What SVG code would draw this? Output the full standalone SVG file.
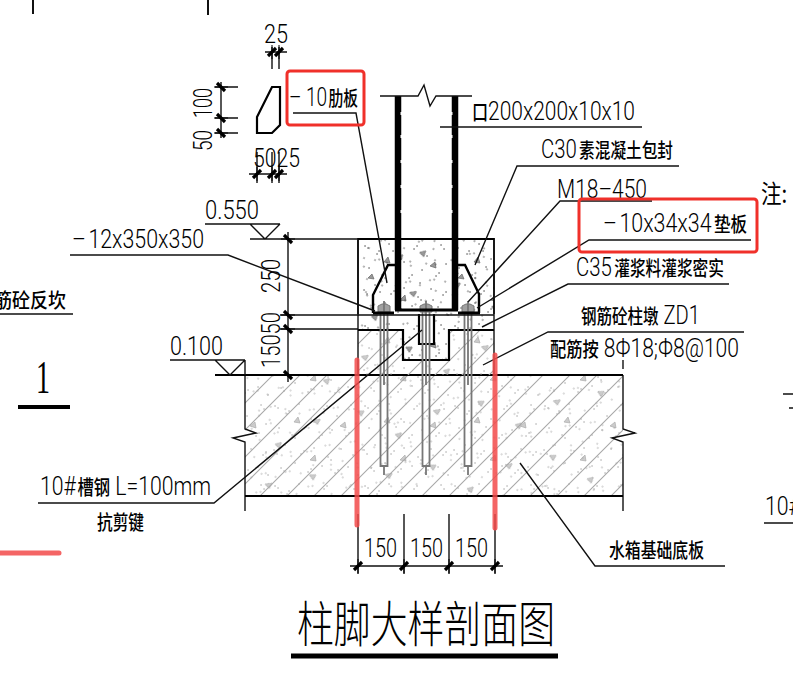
<svg xmlns="http://www.w3.org/2000/svg" width="793" height="690" viewBox="0 0 793 690">
<style>
text{font-family:Roboto,"Liberation Sans","Noto Sans CJK SC",sans-serif;font-weight:300;font-size:26px;fill:#000}
tspan.c{font-size:20px;font-family:"Noto Sans CJK SC",sans-serif;font-weight:500}
.l{fill:none;stroke:#111;stroke-width:1.4}
.b{fill:none;stroke:#000;stroke-width:2.2}
.h{fill:none;stroke:#000;stroke-width:3}
.red{fill:none;stroke:#f0302a;stroke-width:3}
.mark{fill:none;stroke:#f24a4a;stroke-opacity:.85;stroke-width:5;stroke-linecap:round}
.bolt{fill:none;stroke:#777;stroke-width:1.8}
.tick{stroke:#000;stroke-width:3.2;fill:none}
.tt{stroke:#000;stroke-width:1;fill:none}
</style>
<defs>
<pattern id="sp" width="90" height="80" patternUnits="userSpaceOnUse">
<path d="M5 6h.1M8 8h.1M17 14h.1M19 11h.1M29 4h.1M41 19h.1M44 22h.1M54 9h.1M57 6h.1M67 16h.1M81 5h.1M84 9h.1M9 28h.1M22 35h.1M25 38h.1M36 27h.1M49 38h.1M52 35h.1M62 30h.1M76 36h.1M79 33h.1M86 24h.1M4 50h.1M7 54h.1M15 45h.1M31 54h.1M34 51h.1M44 48h.1M58 57h.1M61 60h.1M71 49h.1M83 55h.1M86 52h.1M11 68h.1M14 71h.1M25 63h.1M38 72h.1M41 69h.1M52 66h.1M65 73h.1M68 70h.1M78 67h.1M88 75h.1M33 11h.1M60 43h.1M20 52h.1M73 60h.1" fill="none" stroke="#555" stroke-width="1.5" stroke-linecap="round"/>
<path d="M24 22l4 -5l2 6zM70 26l5 -4l1 6zM40 60l5 -5l1 6zM8 38l4 -4l2 5z" fill="#999" stroke="#666" stroke-width=".7"/>
</pattern>
<pattern id="sp2" href="#sp" patternTransform="rotate(37) translate(13,7)"/>
<pattern id="sl" width="90" height="80" patternUnits="userSpaceOnUse">
<path d="M5 6h.1M8 8h.1M17 14h.1M19 11h.1M29 4h.1M41 19h.1M44 22h.1M54 9h.1M57 6h.1M67 16h.1M81 5h.1M84 9h.1M9 28h.1M22 35h.1M25 38h.1M36 27h.1M49 38h.1M52 35h.1M62 30h.1M76 36h.1M79 33h.1M86 24h.1M4 50h.1M7 54h.1M15 45h.1M31 54h.1M34 51h.1M44 48h.1M58 57h.1M61 60h.1M71 49h.1M83 55h.1M86 52h.1M11 68h.1M14 71h.1M25 63h.1M38 72h.1M41 69h.1M52 66h.1M65 73h.1M68 70h.1M78 67h.1M88 75h.1" fill="none" stroke="#a5a5a5" stroke-width="1.4" stroke-linecap="round"/>
<path d="M24 22l4 -5l2 6zM70 26l5 -4l1 6zM40 60l5 -5l1 6z" fill="#ccc" stroke="#aaa" stroke-width=".7"/>
</pattern>
<pattern id="sl2" href="#sl" patternTransform="rotate(37) translate(13,7)"/>
<pattern id="ha" width="27" height="27" patternUnits="userSpaceOnUse">
<path d="M-2 2L2 -2M0 27L27 0M25 29L29 25" fill="none" stroke="#a8a8a8" stroke-width="1.1"/>
</pattern>
<g id="tv"><path class="tick" d="M-4 -4L4 4"/><path class="tt" d="M-7 0H7"/></g>
<g id="th"><path class="tick" d="M-4 4L4 -4"/><path class="tt" d="M0 -7V7"/></g>
</defs>

<g id="slab">
<rect x="245" y="375" width="378" height="121" fill="url(#sl)"/>
<rect x="245" y="375" width="378" height="121" fill="url(#sl2)"/>
<rect x="245" y="375" width="378" height="121" fill="url(#ha)"/>
<path class="l" d="M245 375V429L256 433L233 438L245 442V511"/>
<path class="l" d="M623 375V429L635 433L612 438L623 442V511"/>
<path class="b" d="M215 375H623M245 496H623" style="stroke-width:1.8"/>
</g>

<g id="pedestal">
<rect x="358" y="330" width="136" height="45" fill="url(#sl)"/>
<rect x="358" y="330" width="136" height="45" fill="url(#sl2)"/>
<rect x="358" y="330" width="136" height="45" fill="url(#ha)"/>
<path class="l" d="M358 330V375M494 330V375"/>
</g>

<g id="grout">
<path d="M358 314H494V330H449V360H403V330H358Z" fill="#fff"/>
<path d="M358 314H494V330H449V360H403V330H358Z" fill="url(#sp)"/>
<path d="M358 314H494V330H449V360H403V330H358Z" fill="url(#sp2)"/>
<path class="b" d="M358 330H403V360H449V330H494"/>
<path class="l" d="M358 314V330M494 314V330"/>
</g>

<g id="encasement">
<rect x="358" y="239" width="136" height="75" fill="url(#sp)"/>
<rect x="358" y="239" width="136" height="75" fill="url(#sp2)"/>
<path class="b" d="M358 314V239H494V314" style="stroke-width:1.8"/>
</g>

<g id="shear-key">
<rect x="419" y="314" width="15" height="30" fill="#fff"/>
<path class="b" d="M419 314V344H434V314"/>
</g>

<g id="bolts">
<path class="bolt" d="M380.500 312V466H387.500V312M384 312V385M384 466V475"/>
<path class="bolt" d="M422.500 312V466H429.500V312M426 312V385M426 466V475"/>
<path class="bolt" d="M464.500 312V466H471.500V312M468 312V385M468 466V475"/>
<path d="M378 312V306L382 304H386L390 306V312ZM420 312V306L424 304H428L432 306V312ZM462 312V306L466 304H470L474 306V312Z" fill="#a0a0a0" stroke="#777" stroke-width="1"/>
<path d="M384 301V312M426 301V312M468 301V312" class="bolt"/>
</g>

<g id="column">
<path d="M398 96V310M455 96V310" fill="none" stroke="#000" stroke-width="6.500"/>
<path d="M395 310H458" class="h"/>
<path d="M401.500 112v3M401.500 135v3M401.500 160v3M401.500 185v3M401.500 210v3M451.500 112v3M451.500 135v3M451.500 160v3M451.500 185v3M451.500 210v3" stroke="#fff" stroke-width="2" fill="none"/>
<path class="l" d="M380 96H418L424 85L430 106L436 96H472"/>
</g>

<g id="ribs-plate">
<path class="b" d="M395 265H388L373 295V313M458 265H465L479 294V313" style="stroke-width:2.400"/>
<path class="h" d="M373 313H394M458 313H480"/>
</g>

<g id="connectors">
<path class="l" d="M293 113H356L387 283"/>
<path class="l" d="M70 255H228L375 311"/>
<path class="l" d="M440 127H642"/>
<path class="l" d="M679 166H517L475 265"/>
<path class="l" d="M652 201H560L468 302"/>
<path class="l" d="M751 240H589L477 308"/>
<path class="l" d="M729 284H568L482 327"/>
<path class="l" d="M744 332H548L483 365"/>
<path class="l" d="M725 566H595L520 463"/>
<path class="l" d="M38 503H214L422 330"/>
<path class="l" d="M0 314H73M764 523H793M783 394H793M789 408H793"/>
<path class="l" d="M623 360V369"/>
<path class="l" d="M33 0V14M208 0V15" style="stroke-width:2"/>
</g>

<g id="rib-detail">
<path class="b" d="M272 87H280V125L272 133H257V117Z"/>
<path class="l" d="M272 47V69M279 47V69M265 52H287"/>
<path class="l" d="M221 82V138M215 87H238M215 118H238M215 133H238"/>
<path class="l" d="M249 174H287M257 152V183M272 152V183M279 152V183"/>
<use href="#th" x="272" y="52"/><use href="#th" x="279" y="52"/>
<use href="#tv" x="221" y="87"/><use href="#tv" x="221" y="118"/><use href="#tv" x="221" y="133"/>
<use href="#th" x="257" y="174"/><use href="#th" x="272" y="174"/><use href="#th" x="279" y="174"/>
<text x="264" y="43" textLength="24" lengthAdjust="spacingAndGlyphs">25</text>
<text transform="translate(212,118) rotate(-90)" textLength="30" lengthAdjust="spacingAndGlyphs">100</text>
<text transform="translate(212,151) rotate(-90)" textLength="21" lengthAdjust="spacingAndGlyphs">50</text>
<text x="253" y="167" textLength="47" lengthAdjust="spacingAndGlyphs">5025</text>
</g>

<g id="level-dims">
<path class="l" d="M205 224H280M250 224L265 239L280 224M250 239H358"/>
<path class="l" d="M170 360H245M215 360L230 375L245 360M245 360V375"/>
<path class="l" d="M288 232V382M280 315H494M280 329H358"/>
<use href="#tv" x="288" y="239"/><use href="#tv" x="288" y="315"/><use href="#tv" x="288" y="329"/><use href="#tv" x="288" y="375"/>
<text x="205" y="219" textLength="54" lengthAdjust="spacingAndGlyphs">0.550</text>
<text x="170" y="355" textLength="53" lengthAdjust="spacingAndGlyphs">0.100</text>
<text transform="translate(280,293) rotate(-90)" textLength="34" lengthAdjust="spacingAndGlyphs">250</text>
<text transform="translate(280,368) rotate(-90)" textLength="56" lengthAdjust="spacingAndGlyphs">15050</text>
</g>

<g id="bottom-dims">
<path class="l" d="M358 514V574M404 514V574M449 514V574M495 514V574M350 566H503"/>
<use href="#th" x="358" y="566"/><use href="#th" x="404" y="566"/><use href="#th" x="449" y="566"/><use href="#th" x="495" y="566"/>
<text x="364" y="557" textLength="33" lengthAdjust="spacingAndGlyphs">150</text>
<text x="410" y="557" textLength="33" lengthAdjust="spacingAndGlyphs">150</text>
<text x="455" y="557" textLength="33" lengthAdjust="spacingAndGlyphs">150</text>
</g>

<g id="labels">
<text x="289" y="106" textLength="69" lengthAdjust="spacingAndGlyphs">–<tspan dx="6">10</tspan><tspan class="c" dx="2">肋板</tspan></text>
<text x="72" y="248" textLength="132" lengthAdjust="spacingAndGlyphs">–<tspan dx="3">12x350x350</tspan></text>
<text x="472" y="120" textLength="163" lengthAdjust="spacingAndGlyphs"><tspan class="c">口</tspan>200x200x10x10</text>
<text x="541" y="158" textLength="132" lengthAdjust="spacingAndGlyphs">C30<tspan class="c" dx="3">素混凝土包封</tspan></text>
<text x="557" y="198" textLength="90" lengthAdjust="spacingAndGlyphs">M18–450</text>
<text x="603" y="232" textLength="144" lengthAdjust="spacingAndGlyphs">–<tspan dx="3">10x34x34</tspan><tspan class="c" dx="3">垫板</tspan></text>
<text x="576" y="276" textLength="148" lengthAdjust="spacingAndGlyphs">C35<tspan class="c" dx="3">灌浆料灌浆密实</tspan></text>
<text x="581" y="324" textLength="119" lengthAdjust="spacingAndGlyphs"><tspan class="c">钢筋砼柱墩</tspan> ZD1</text>
<text x="550" y="357" textLength="189" lengthAdjust="spacingAndGlyphs"><tspan class="c">配筋按</tspan> 8Φ18;Φ8@100</text>
<text x="609" y="558" textLength="95" lengthAdjust="spacingAndGlyphs"><tspan class="c">水箱基础底板</tspan></text>
<text x="40" y="495" textLength="171" lengthAdjust="spacingAndGlyphs">10#<tspan class="c" dx="2">槽钢</tspan> L=100mm</text>
<text x="97" y="530" textLength="47" lengthAdjust="spacingAndGlyphs"><tspan class="c">抗剪键</tspan></text>
<text x="-6" y="308" textLength="72" lengthAdjust="spacingAndGlyphs"><tspan class="c">筋砼反坎</tspan></text>
<text transform="translate(761,203) scale(.82,1)" style="font-size:25px;font-family:'Noto Sans CJK SC',sans-serif;font-weight:400">注:</text>
<text x="765" y="515" textLength="36" lengthAdjust="spacingAndGlyphs">10#</text>
<text x="36" y="393" textLength="14" lengthAdjust="spacingAndGlyphs" style="font-size:46px;font-family:'Liberation Serif',serif;font-weight:400">1</text>
<path d="M18 407H70" class="h" style="stroke-width:4"/>
<text transform="translate(297,642) scale(1,1.32)" textLength="258" lengthAdjust="spacingAndGlyphs" style="font-size:37px;font-family:'Noto Sans CJK SC',sans-serif;font-weight:300">柱脚大样剖面图</text>
<path d="M291 656H558" fill="none" stroke="#000" stroke-width="5"/>
</g>

<g id="markup">
<rect class="red" x="287" y="71" width="77" height="54" rx="3"/>
<rect class="red" x="579" y="199" width="178" height="53" rx="3"/>
<path class="mark" d="M357 360V525M495 355V528M-5 553H59"/>
</g>
</svg>
